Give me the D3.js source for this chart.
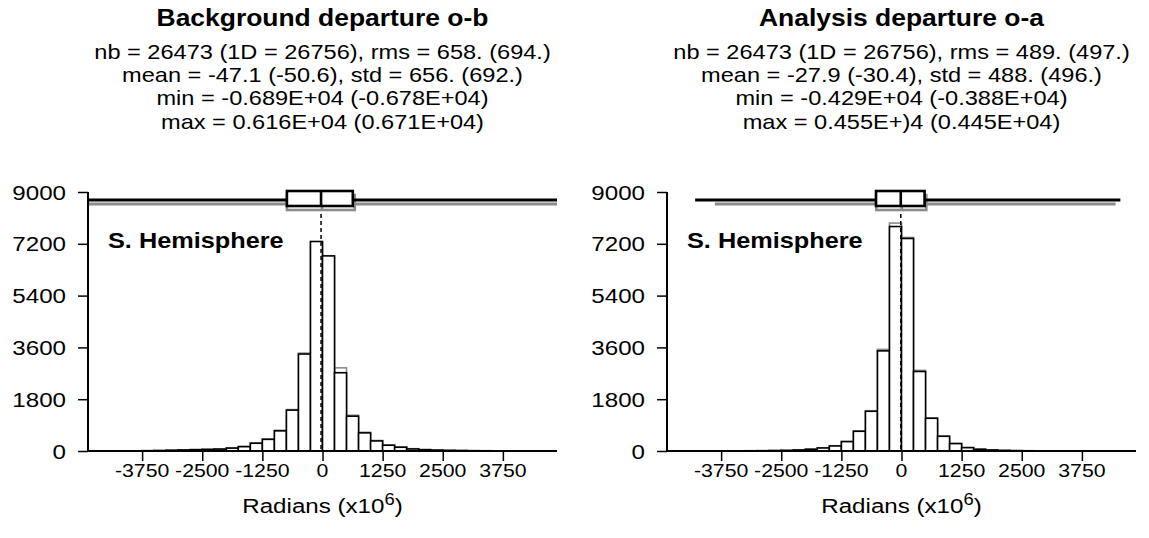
<!DOCTYPE html>
<html><head><meta charset="utf-8">
<script src="https://cdn.jsdelivr.net/npm/d3@7"></script>
<style>
html,body{margin:0;padding:0;background:#fff;}
svg text{font-family:"Liberation Sans",Arial,Helvetica,sans-serif;fill:#000;}
</style></head>
<body>
<svg id="chart" width="1149" height="538"></svg>
<script>
// ---- data ----
const binStarts = [-3750,-3500,-3250,-3000,-2750,-2500,-2250,-2000,-1750,-1500,-1250,-1000,-750,-500,-250,0,250,500,750,1000,1250,1500,1750,2000,2250,2500,2750,3000,3250,3500];
const binWidth = 250;
const obCounts   = [10,15,25,35,45,55,65,100,150,270,405,700,1420,3370,7280,6780,2720,1210,630,350,200,130,70,45,30,20,15,10,8,5];
const obCounts1D = [12,18,28,40,50,60,72,110,160,280,420,720,1440,3400,7250,6760,2890,1240,650,365,210,140,80,50,35,25,18,12,10,6];
const oaCounts   = [3,5,8,10,15,20,35,60,105,175,325,685,1380,3480,7800,7385,2763,1137,511,257,116,60,35,20,12,8,5,3,2,1];
const oaCounts1D = [4,6,9,12,18,24,40,66,112,182,335,700,1400,3530,7920,7420,2800,1150,520,262,120,64,38,22,14,9,6,4,2,1];
const yTicks = [0,1800,3600,5400,7200,9000];
const xTicks = [-3750,-2500,-1250,0,1250,2500,3750];
const titles = ["Background departure o-b","Analysis departure o-a"];
const statsOB = ["nb = 26473 (1D = 26756), rms = 658. (694.)","mean = -47.1 (-50.6), std = 656. (692.)","min = -0.689E+04 (-0.678E+04)","max = 0.616E+04 (0.671E+04)"];
const statsOA = ["nb = 26473 (1D = 26756), rms = 489. (497.)","mean = -27.9 (-30.4), std = 488. (496.)","min = -0.429E+04 (-0.388E+04)","max = 0.455E+)4 (0.445E+04)"];
const regionLabel = "S. Hemisphere";
// box summaries: [whiskerMin, boxLow, centre, boxHigh, whiskerMax]
const boxOB   = [-6890,-740,-30,630,6160];
const boxOB1D = [-6780,-760,-30,650,6710];
const boxOA   = [-4290,-530,-15,480,4550];
const boxOA1D = [-3880,-545,-15,495,4450];

const panels = [
  {title:titles[0], stats:statsOB, counts:obCounts, counts1D:obCounts1D, box:boxOB, box1D:boxOB1D, x0:88, x1:557, labelX:66},
  {title:titles[1], stats:statsOA, counts:oaCounts, counts1D:oaCounts1D, box:boxOA, box1D:boxOA1D, x0:667, x1:1136, labelX:645}
];

const svg = d3.select("#chart");
const SX = 1.15;
function txt(g, x, y, s, size, weight, anchor){
  const t = g.append("text")
    .attr("transform", `translate(${x},${y}) scale(${SX},1)`)
    .attr("text-anchor", anchor || "middle")
    .style("font-size", size+"px")
    .style("font-weight", weight || "normal")
    .text(s);
  return t;
}

const yBottom = 451, yTop = 192;
const y = d3.scaleLinear().domain([0,9000]).range([yBottom,yTop]);

panels.forEach(p => {
  const g = svg.append("g");
  const x = d3.scaleLinear().domain([-4875,4875]).range([p.x0,p.x1]);
  const cx = (p.x0+p.x1)/2;
  txt(g, cx, 26, p.title, 23, "bold");
  p.stats.forEach((s,i) => txt(g, cx, 58.5 + i*23.4, s, 20.5));

  // gray (1D) histogram behind
  g.append("g").selectAll("rect").data(binStarts).join("rect")
    .attr("x", d => x(d)).attr("width", d => x(d+binWidth)-x(d))
    .attr("y", (d,i) => y(p.counts1D[i])).attr("height", (d,i) => yBottom - y(p.counts1D[i]))
    .attr("fill","none").attr("stroke","#8c8c8c").attr("stroke-width",1.6);
  // black histogram
  g.append("g").selectAll("rect").data(binStarts).join("rect")
    .attr("x", d => x(d)).attr("width", d => x(d+binWidth)-x(d))
    .attr("y", (d,i) => y(p.counts[i])).attr("height", (d,i) => yBottom - y(p.counts[i]))
    .attr("fill","#fff").attr("stroke","#000").attr("stroke-width",1.6);

  // dashed centre line
  g.append("line").attr("x1", x(p.box[2])).attr("x2", x(p.box[2]))
    .attr("y1", 207).attr("y2", yBottom)
    .attr("stroke","#000").attr("stroke-width",1.5).attr("stroke-dasharray","4,3");

  // box plots
  const clip = v => Math.max(p.x0, Math.min(p.x1, x(v)));
  function drawBox(b, yc, color, dx){
    g.append("line").attr("x1", clip(b[0])).attr("x2", clip(b[4]))
      .attr("y1", yc).attr("y2", yc).attr("stroke", color).attr("stroke-width", 3);
    g.append("rect").attr("x", x(b[1])+dx).attr("width", x(b[3])-x(b[1]))
      .attr("y", yc-9).attr("height", 15)
      .attr("fill","#fff").attr("stroke", color).attr("stroke-width", 2.6);
    g.append("line").attr("x1", x(b[2])+dx).attr("x2", x(b[2])+dx)
      .attr("y1", yc-9).attr("y2", yc+6).attr("stroke", color).attr("stroke-width", 2.6);
  }
  drawBox(p.box1D, 204, "#8c8c8c", 1);
  drawBox(p.box, 200, "#000", 0);

  // axes
  const ya = d3.axisLeft(y).tickValues(yTicks).tickSize(10).tickFormat(d3.format("d"));
  const yg = g.append("g").attr("transform", `translate(${p.x0},0)`).call(ya);
  yg.select(".domain").remove();
  yg.selectAll(".tick text").remove();
  yg.selectAll(".tick line").attr("stroke","#000").attr("stroke-width",1.5);
  g.append("line").attr("x1",p.x0).attr("x2",p.x0).attr("y1",yTop).attr("y2",yBottom)
    .attr("stroke","#000").attr("stroke-width",2);
  yTicks.forEach(t => txt(g, p.labelX, y(t)+7.5, String(t), 21, "normal", "end"));

  const xa = d3.axisBottom(x).tickValues(xTicks).tickSize(10);
  const xg = g.append("g").attr("transform", `translate(0,${yBottom})`).call(xa);
  xg.select(".domain").remove();
  xg.selectAll(".tick text").remove();
  xg.selectAll(".tick line").attr("stroke","#000").attr("stroke-width",1.5);
  g.append("line").attr("x1",p.x0).attr("x2",p.x1).attr("y1",yBottom).attr("y2",yBottom)
    .attr("stroke","#000").attr("stroke-width",2.2);
  xTicks.forEach(t => txt(g, x(t), 477, String(t), 18.5));

  const at = txt(g, x(0), 513, "", 21);
  at.append("tspan").text("Radians (x10");
  at.append("tspan").attr("dy",-8).style("font-size","16px").text("6");
  at.append("tspan").attr("dy",8).text(")");

  txt(g, p.x0+20, 248, regionLabel, 22, "bold", "start");
});
</script>
</body></html>
